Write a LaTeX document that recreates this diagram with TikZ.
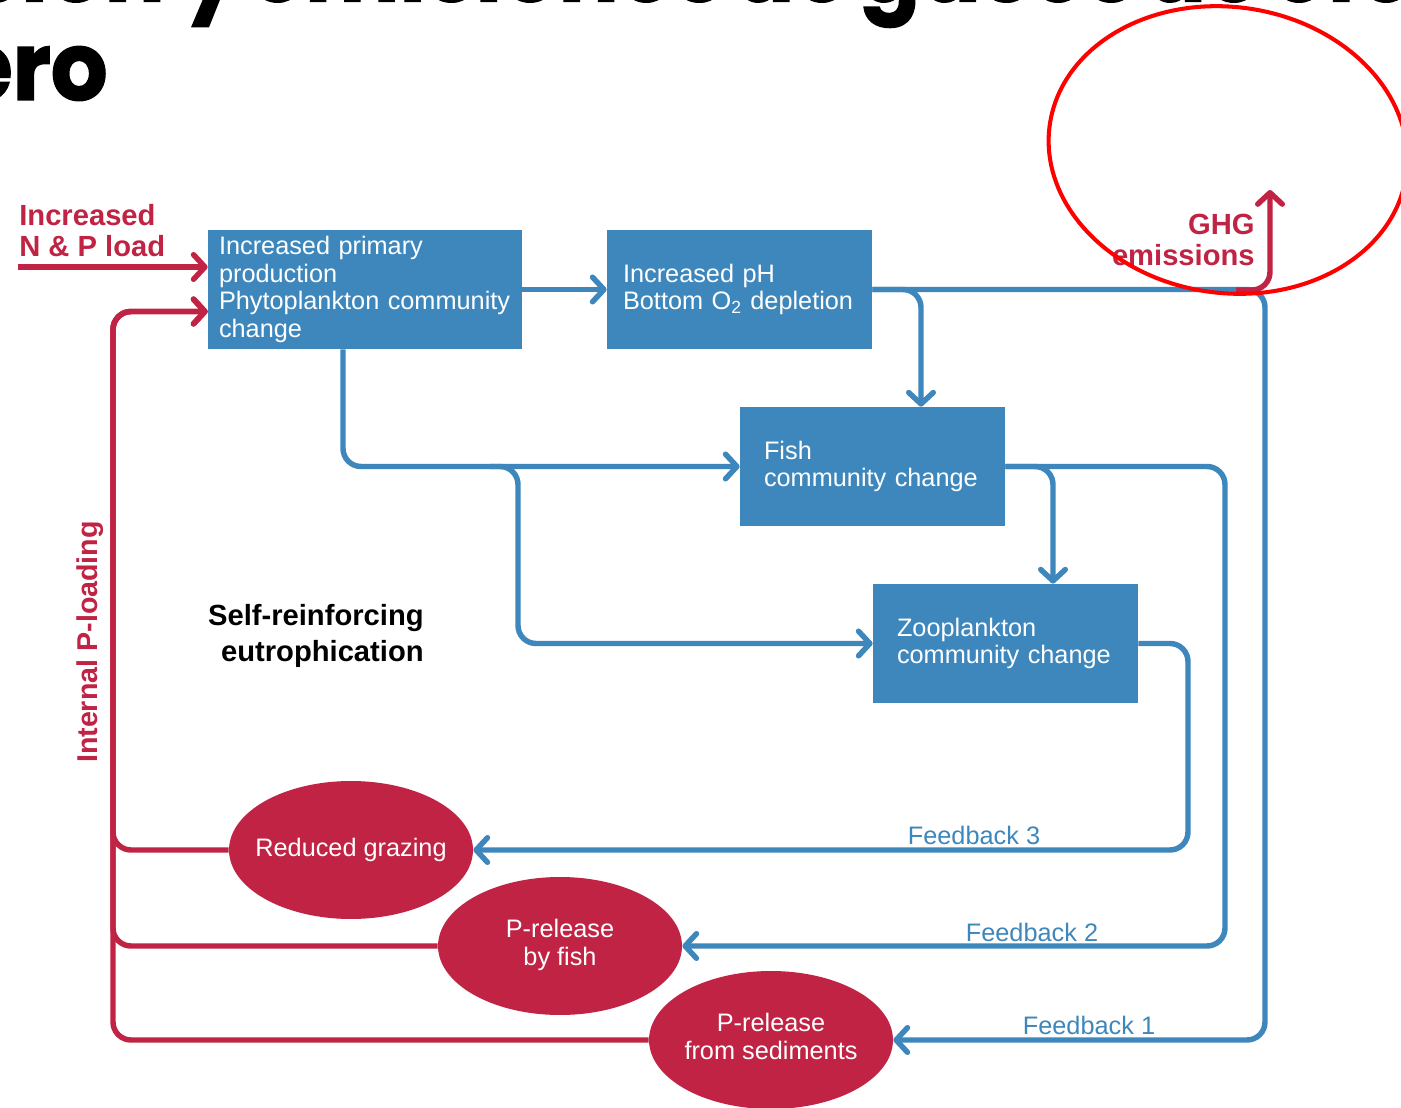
\documentclass[tikz,border=0pt]{standalone}
\usepackage{fontspec}
\setmainfont{Liberation Sans}
\newfontfamily\titlefont{Poppins}[WordSpace=0.55, FakeStretch=0.94, BoldFeatures={FakeBold=1.5}]
\usetikzlibrary{arrows.meta,shapes.geometric,calc}
\definecolor{flowblue}{HTML}{3E87BD}
\definecolor{loopred}{HTML}{C02343}
\definecolor{markred}{HTML}{FF0000}

\begin{document}
\begin{tikzpicture}[x=0.02cm,y=-0.02cm,
  every node/.style={inner sep=0pt},
  fbarb/.tip={Straight Barb[length=6.5pt,width=14pt,round]},
  bluebox/.style={fill=flowblue, text=white, align=left,
    font=\fontsize{14.4}{15.7}\selectfont, minimum height=2.38cm, inner ysep=0pt},
  redoval/.style={ellipse, fill=loopred, text=white,
    font=\fontsize{14.4}{15.7}\selectfont, minimum width=4.88cm, minimum height=2.76cm},
  blueline/.style={draw=flowblue, line width=3.1pt, rounded corners=0.36cm, -fbarb},
  redline/.style={draw=loopred, line width=3.1pt, rounded corners=0.36cm, -fbarb},
  boldred/.style={text=loopred, font=\bfseries\fontsize{16.6}{17.6}\selectfont},
  fblabel/.style={text=flowblue, font=\fontsize{14.4}{15.7}\selectfont, anchor=base},
  titletext/.style={text=black, font=\titlefont\bfseries\fontsize{54}{54}\selectfont}
]
\useasboundingbox (0,0) rectangle (1401,1108);
\clip (0,0) rectangle (1401,1108);
\fill[white] (0,0) rectangle (1401,1108);

% heading, running off the top and left edges
\node[titletext, anchor=base east] (head1a) at (165,1.5) {Eutrofización};
\node[titletext, anchor=base west] (head1b) at (183,1.5) {y emisiones de gases de efecto};
\node[titletext, anchor=base east] (head2) at (108,100) {invernadero};

% process boxes
\node[bluebox, minimum width=6.28cm, text width=5.84cm, inner xsep=0.22cm] (b1) at (365,289.5)
  {Increased primary\\production\\Phytoplankton community\\change};
\node[bluebox, minimum width=5.3cm, text width=4.66cm, inner xsep=0.32cm] (b2) at (739.5,289.5)
  {Increased pH\\Bottom O\textsubscript{2} depletion};
\node[bluebox, minimum width=5.3cm, text width=4.34cm, inner xsep=0.48cm] (b3) at (872.5,466.5)
  {Fish\\community change};
\node[bluebox, minimum width=5.3cm, text width=4.34cm, inner xsep=0.48cm] (b4) at (1005.5,643.5)
  {Zooplankton\\community change};

% feedback ovals (text kept in zero-width boxes so the outline keeps its size)
\node[redoval] (rg) at (351,850) {\makebox[0pt]{Reduced grazing}};
\node[redoval] (fish) at (560,946)
  {\makebox[0pt]{\begin{tabular}{@{}c@{}}P-release\\by fish\end{tabular}}};
\node[redoval] (sed) at (771,1040)
  {\makebox[0pt]{\begin{tabular}{@{}c@{}}P-release\\from sediments\end{tabular}}};

% free labels
\node[boldred, align=left, anchor=west] (load) at (19,231) {Increased\\N \& P load};
\node[boldred, align=right, anchor=east] (ghg) at (1255,240) {GHG\\emissions};
\node[boldred, rotate=90, font=\bfseries\fontsize{16.3}{17}\selectfont] (ipl) at (90,642) {Internal P-loading};
\node[align=right, anchor=east, font=\bfseries\fontsize{16.6}{20.4}\selectfont] (sre) at (424,636)
  {Self-reinforcing\\eutrophication};
\node[fblabel] (fb3) at (974,844) {Feedback 3};
\node[fblabel] (fb2) at (1032,941) {Feedback 2};
\node[fblabel] (fb1) at (1089,1034) {Feedback 1};

% routing columns
\coordinate (colB) at (343,0);
\coordinate (colApre) at (490,0);
\coordinate (colA) at (518,0);
\coordinate (colC) at (921,0);
\coordinate (colD) at (1053,0);
\coordinate (colF) at (1188,0);
\coordinate (colE) at (1225,0);
\coordinate (colG) at (1265,0);
\coordinate (colR) at (113,0);
\coordinate (npstart) at (18,267);
\coordinate (inlet) at ($(b1.west)+(0,22)$);
\coordinate (ghgfoot) at (1236,290);
\coordinate (ghgtip) at (1270,190);

% blue cause chain
\draw[blueline] (b1.east) -- (b2.west);
\draw[blueline] (b2.east) -| (colG |- sed.east) -- (sed.east);
\draw[blueline] (b2.east) -| (colC |- b3.north);
\draw[blueline] (colB |- b1.south) |- (b3.west);
\draw[blueline] (colApre |- b3.west) -| (colA |- b4.west) -- (b4.west);
\draw[blueline] (b3.east) -| (colE |- fish.east) -- (fish.east);
\draw[blueline] (b3.east) -| (colD |- b4.north);
\draw[blueline] (b4.east) -| (colF |- rg.east) -- (rg.east);

% red loading paths
\draw[redline] (npstart) -- (npstart -| b1.west);
\draw[redline] (rg.west) -| (colR |- inlet) -- (inlet);
\draw[redline] (fish.west) -| (colR |- inlet) -- (inlet);
\draw[redline] (sed.west) -| (colR |- inlet) -- (inlet);
\draw[redline] (ghgfoot) -| (ghgtip);

% highlight ring
\draw[markred, line width=2.3pt, rotate around={-8:(1228,150)}] (1228,150) ellipse [x radius=180, y radius=143];
\end{tikzpicture}
\end{document}
